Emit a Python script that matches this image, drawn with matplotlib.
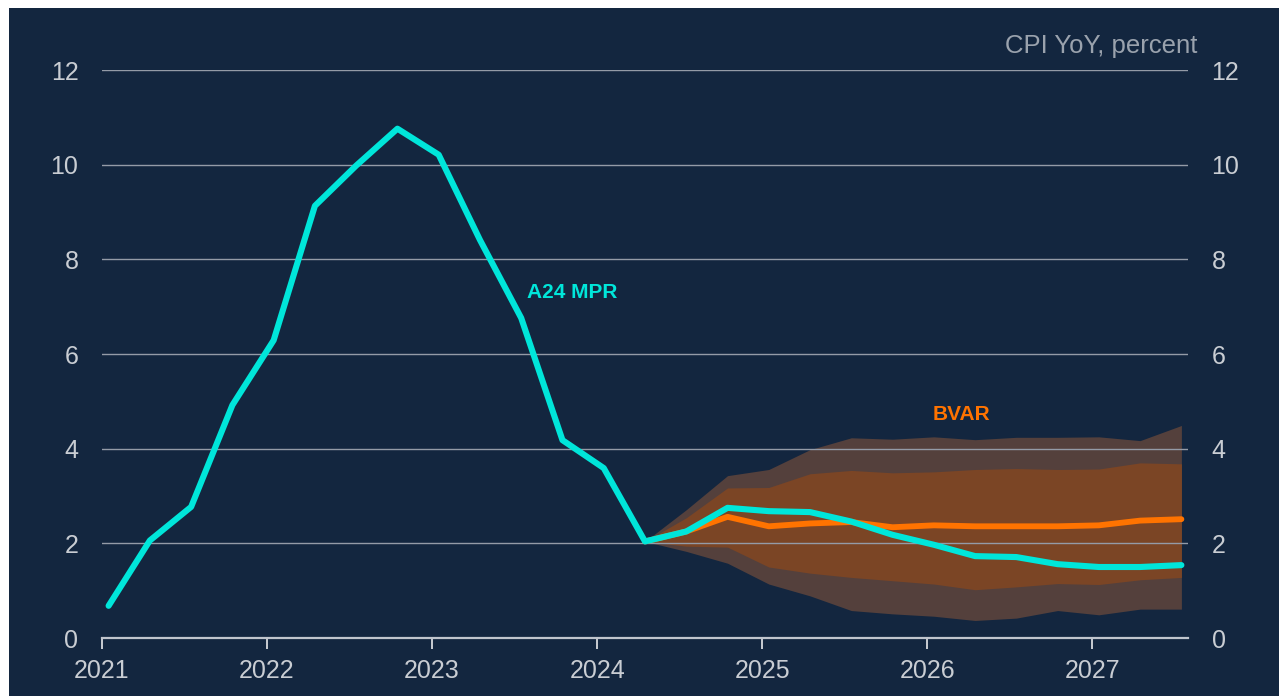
import numpy as np
import matplotlib; matplotlib.use("Agg")
import matplotlib.pyplot as plt
from matplotlib.patches import Rectangle

# quarterly observations / projections, 2021Q1 .. 2027Q3
quarters = [f"{y}Q{q}" for y in range(2021, 2028) for q in range(1, 5)][:27]
mpr = [0.68, 2.06, 2.77, 4.92, 6.29, 9.13, 9.98, 10.76, 10.21, 8.41, 6.76, 4.18,
       3.59, 2.04, 2.25, 2.75, 2.68, 2.66, 2.46, 2.18, 1.97, 1.73, 1.71, 1.56,
       1.50, 1.50, 1.54]

# BVAR projection starts at 2024Q2
bvar_start = 13
bvar = [2.04, 2.25, 2.56, 2.36, 2.42, 2.45, 2.34, 2.38, 2.36, 2.36, 2.36, 2.38, 2.48, 2.51]
bvar_inner_hi = [2.04, 2.54, 3.17, 3.18, 3.47, 3.54, 3.49, 3.51, 3.56, 3.58, 3.56, 3.57, 3.70, 3.68]
bvar_inner_lo = [2.04, 1.94, 1.92, 1.50, 1.37, 1.28, 1.21, 1.14, 1.02, 1.08, 1.15, 1.13, 1.23, 1.28]
bvar_outer_hi = [2.04, 2.71, 3.43, 3.56, 3.98, 4.23, 4.20, 4.25, 4.19, 4.24, 4.24, 4.25, 4.17, 4.49]
bvar_outer_lo = [2.04, 1.83, 1.58, 1.14, 0.89, 0.58, 0.51, 0.46, 0.37, 0.42, 0.58, 0.49, 0.61, 0.61]

years = list(range(2021, 2028))

BG = "#13263f"
FG = "#c9cdd3"
CYAN = "#00e6da"
ORANGE = "#ff7300"

x = np.array([int(s[:4]) + (int(s[-1]) - 1) / 4 + 0.04 for s in quarters])
xb = x[bvar_start:]

fig = plt.figure(figsize=(12.79, 6.96), dpi=100, facecolor="white")
fig.patches.append(Rectangle((9 / 1279, 0), 1, 1 - 8 / 696, transform=fig.transFigure,
                             facecolor=BG, edgecolor="none", zorder=-10))
ax = fig.add_axes([102 / 1279, 1 - 638 / 696, (1188 - 102) / 1279, (638 - 70) / 696])
ax.set_facecolor("none")

ax.fill_between(xb, bvar_outer_lo, bvar_outer_hi, color="#54403c", lw=0, zorder=1)
ax.fill_between(xb, bvar_inner_lo, bvar_inner_hi, color="#7b4525", lw=0, zorder=1.1)
ax.plot(xb, bvar, color=ORANGE, lw=4.2, solid_capstyle="round", solid_joinstyle="round", zorder=3)
ax.plot(x, mpr, color=CYAN, lw=4.4, solid_capstyle="round", solid_joinstyle="round", zorder=4)

ax.text(2023.576, 7.29, "A24 MPR", color=CYAN, fontsize=15, fontweight="bold",
        family="Liberation Sans", va="center", ha="left")
ax.text(2026.03, 4.73, "BVAR", color=ORANGE, fontsize=15, fontweight="bold",
        family="Liberation Sans", va="center", ha="left")

ax.set_xlim(2021.0, 2027.58)
ax.set_ylim(0, 12)
ax.set_yticks(range(0, 13, 2))
ax.set_xticks(years)
ax.grid(axis="y", color="#949ba7", lw=1.0)
ax.set_axisbelow("line")
for s in ["top", "right", "left"]:
    ax.spines[s].set_visible(False)
ax.spines["bottom"].set_color("#c0c5cd")
ax.spines["bottom"].set_linewidth(1.6)
ax.spines["bottom"].set_zorder(2)
ax.tick_params(axis="x", colors=FG, length=8, width=1.4, pad=7, labelsize=18)
ax.tick_params(axis="y", colors=FG, length=0, pad=17, labelsize=18)
for lab in ax.get_xticklabels() + ax.get_yticklabels():
    lab.set_family("Liberation Sans")

ax2 = ax.twinx()
ax2.set_ylim(ax.get_ylim())
ax2.set_yticks(range(0, 13, 2))
for s in ax2.spines.values():
    s.set_visible(False)
ax2.tick_params(axis="y", colors=FG, length=0, pad=17, labelsize=18)
for lab in ax2.get_yticklabels():
    lab.set_family("Liberation Sans")

fig.text(1197 / 1279, 1 - 46 / 696, "CPI YoY, percent", color="#9aa2ad", fontsize=18.5,
         family="Liberation Sans", ha="right", va="center")

fig.savefig("out.png", dpi=100, facecolor=fig.get_facecolor())
